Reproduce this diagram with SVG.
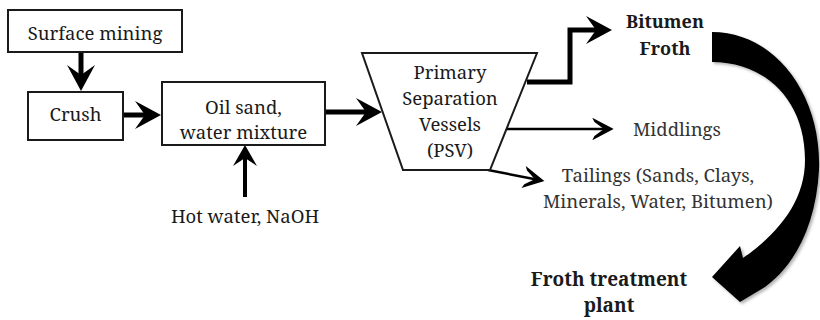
<svg xmlns="http://www.w3.org/2000/svg" width="820" height="320" viewBox="0 0 820 320">
<defs>
<style>
.box{fill:#fff;stroke:#1a1a1a;stroke-width:2}
text{font-family:'Noto Serif','DejaVu Serif',serif;font-size:18.5px;fill:#1a1a1a;text-anchor:middle}
.g{fill:#333}
.b{font-weight:bold;font-size:18px}
.thick{fill:none;stroke:#000;stroke-width:5}
.med{fill:none;stroke:#000;stroke-width:4}
.thin{fill:none;stroke:#000;stroke-width:2.5}
</style>
<marker id="hA" markerUnits="userSpaceOnUse" viewBox="-16 -15 30 30" refX="0" refY="0" markerWidth="30" markerHeight="30" orient="auto">
<path d="M12,0 L-14,-14 L-4,0 L-14,14 Z" fill="#000"/>
</marker>
<marker id="hM" markerUnits="userSpaceOnUse" viewBox="-14 -13 26 26" refX="0" refY="0" markerWidth="26" markerHeight="26" orient="auto">
<path d="M10,0 L-11,-12 L-3,0 L-11,12 Z" fill="#000"/>
</marker>
<marker id="hB" markerUnits="userSpaceOnUse" viewBox="-16 -11 24 22" refX="0" refY="0" markerWidth="24" markerHeight="22" orient="auto">
<path d="M4,0 L-14,-9.5 L-13,-7.5 L-3,0 L-13,7.5 L-14,9.5 Z" fill="#000" stroke="#000" stroke-width="1.5" stroke-linejoin="miter"/>
</marker>
<filter id="sh" x="-20%" y="-20%" width="140%" height="140%">
<feDropShadow dx="2" dy="2" stdDeviation="1.5" flood-color="#000" flood-opacity="0.3"/>
</filter>
</defs>

<g id="connectors">
<line class="thick" x1="81" y1="52" x2="81" y2="79" marker-end="url(#hA)"/>
<line class="thick" x1="123" y1="115" x2="149" y2="115" marker-end="url(#hA)"/>
<line class="thick" x1="325" y1="112" x2="370" y2="112" marker-end="url(#hA)"/>
<line class="med" x1="245" y1="197" x2="245" y2="155" marker-end="url(#hM)"/>
<polyline class="thick" points="527,82 570,82 570,30 600,30" marker-end="url(#hA)"/>
<line class="thin" x1="507" y1="129" x2="608" y2="129" marker-end="url(#hB)"/>
<line class="thin" x1="488" y1="170" x2="539" y2="180" marker-end="url(#hB)"/>
<path id="bigArrow" d="M712,32 C775,32 822,95 819,170 C816,225 795,265 765,287 L740,302 L712,277 L740,246 L743,258 C780,232 805,200 805,160 C805,100 765,62 712,62 Z" fill="#000" filter="url(#sh)"/>
</g>

<g id="surface-mining">
<rect class="box" x="8" y="10" width="174" height="42"/>
<text x="95" y="40">Surface mining</text>
</g>
<g id="crush">
<rect class="box" x="28" y="92" width="95" height="48"/>
<text x="75.5" y="121">Crush</text>
</g>
<g id="oil-sand">
<rect class="box" x="162" y="82" width="163" height="63"/>
<text x="243.5" y="114">Oil sand,</text>
<text x="243.5" y="139">water mixture</text>
</g>
<g id="hot-water">
<text x="245" y="223">Hot water, NaOH</text>
</g>
<g id="psv">
<polygon class="box" points="362,53 537,53 490,170 403,170"/>
<text x="450" y="79">Primary</text>
<text x="450" y="105">Separation</text>
<text x="450" y="131">Vessels</text>
<text x="450" y="157">(PSV)</text>
</g>
<g id="bitumen-froth">
<text class="b" x="665" y="28">Bitumen</text>
<text class="b" x="665" y="55">Froth</text>
</g>
<g id="middlings">
<text class="g" x="633" y="136" style="text-anchor:start">Middlings</text>
</g>
<g id="tailings">
<text class="g" x="658" y="182">Tailings (Sands, Clays,</text>
<text class="g" x="658" y="208">Minerals, Water, Bitumen)</text>
</g>
<g id="froth-treatment">
<text class="b" x="609" y="286" style="font-size:19px">Froth treatment</text>
<text class="b" x="609" y="312" style="font-size:19px">plant</text>
</g>
</svg>
